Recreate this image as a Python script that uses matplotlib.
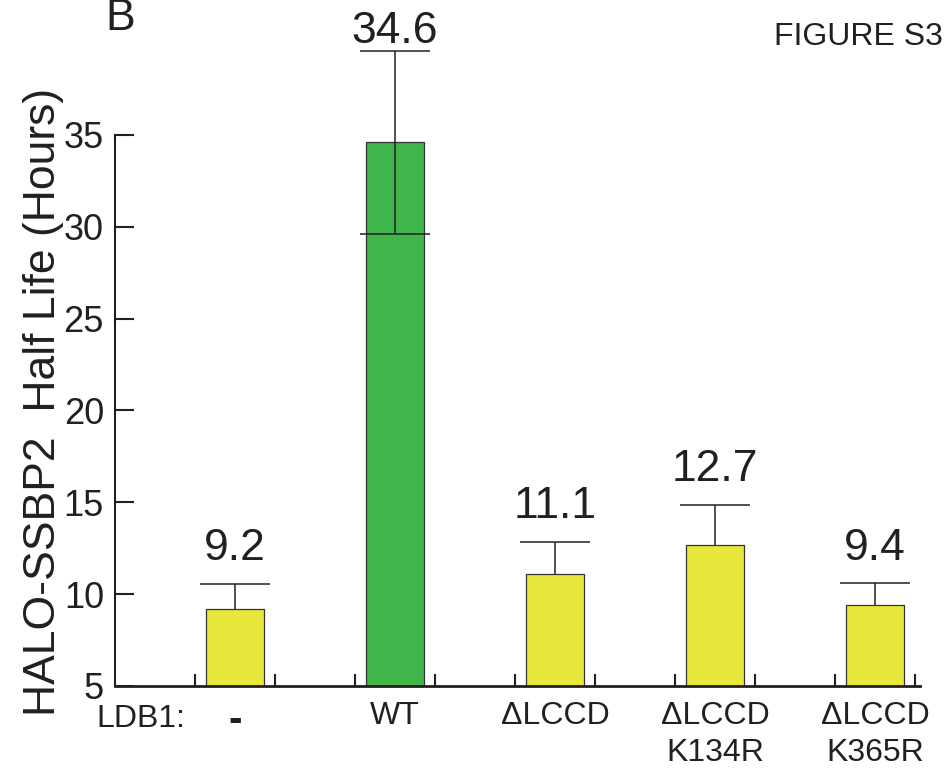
import matplotlib
matplotlib.use('Agg')
import matplotlib.pyplot as plt
import matplotlib.transforms as mtransforms
import numpy as np

plt.rcParams['font.family'] = ['Liberation Sans', 'DejaVu Sans']

# datos
categorias = ['-', 'WT', '\u0394LCCD', '\u0394LCCD\nK134R', '\u0394LCCD\nK365R']
vida_media = [9.2, 34.6, 11.1, 12.7, 9.4]
err_arriba = [1.35, 4.95, 1.74, 2.15, 1.2]
err_abajo = [0, 5.0, 0, 0, 0]
colores = ['#E8E83C', '#40B549', '#E8E83C', '#E8E83C', '#E8E83C']
separacion_texto = [17, 6, 17, 17, 17]  # puntos sobre la barra de error

x = np.arange(len(categorias))
v = np.array(vida_media)
up = np.array(err_arriba)
dn = np.array(err_abajo)

fig = plt.figure(figsize=(9.45, 7.74), dpi=100)
ax = fig.add_axes([0.1217, 0.1137, 0.8518, 0.8307])

ax.bar(x, v, width=0.36, bottom=0, color=colores,
       edgecolor='#333333', linewidth=0.9, zorder=2)

# barras de error: linea vertical + tapas (solo WT tiene parte de abajo)
ax.vlines(x, v - dn, v + up, color='#222222', linewidth=1.1, zorder=3)
cap = 0.22
ax.hlines(v + up, x - cap, x + cap, color='#222222', linewidth=1.1, zorder=3)
abajo = dn > 0
ax.hlines((v - dn)[abajo], x[abajo] - cap, x[abajo] + cap, color='#222222',
          linewidth=1.1, zorder=3)

for xi, val, e, d in zip(x, v, up, separacion_texto):
    ax.annotate(f'{val:.1f}', xy=(xi, val + e), xytext=(0, d), textcoords='offset points',
                ha='center', va='baseline', fontsize=32, color='#231F20',
                annotation_clip=False)

ax.set_ylim(5, 40)
ax.set_xlim(-0.75, 4.28)

ax.spines['top'].set_visible(False)
ax.spines['right'].set_visible(False)
ax.spines['left'].set_bounds(5, 35)
ax.spines['left'].set_linewidth(1.5)
ax.spines['bottom'].set_linewidth(2.0)
ax.spines['left'].set_color('#231F20')
ax.spines['bottom'].set_color('#231F20')

ax.set_yticks([5, 10, 15, 20, 25, 30, 35])
ax.tick_params(axis='y', direction='in', length=14, width=1.5, labelsize=26,
               pad=8, colors='#231F20')

ax.set_xticks(x)
ax.set_xticklabels(categorias, fontsize=23, linespacing=1.3, color='#231F20')
ax.tick_params(axis='x', which='major', length=0, pad=11)
ax.set_xticks(np.concatenate([x - 0.25, x + 0.25]), minor=True)
ax.tick_params(axis='x', which='minor', direction='in', length=9, width=1.5,
               colors='#231F20')
guion = ax.get_xticklabels()[0]
guion.set_fontweight('bold')
guion.set_fontsize(29)

trans = mtransforms.blended_transform_factory(ax.transData, ax.transAxes)
ax.text(-0.31, -0.0638, 'LDB1:', transform=trans, ha='right', va='baseline',
        fontsize=23, color='#231F20')

ax.set_ylabel('HALO-SSBP2  Half Life (Hours)', fontsize=32, color='#231F20')
ax.yaxis.set_label_coords(-0.063, 0.4417)

fig.text(0.111, 0.9612, 'B', fontsize=32, ha='left', va='baseline', color='#231F20')
fig.text(0.998, 0.9419, 'FIGURE S3', fontsize=23, ha='right', va='baseline',
         color='#231F20')

fig.savefig('out.png', dpi=100)
